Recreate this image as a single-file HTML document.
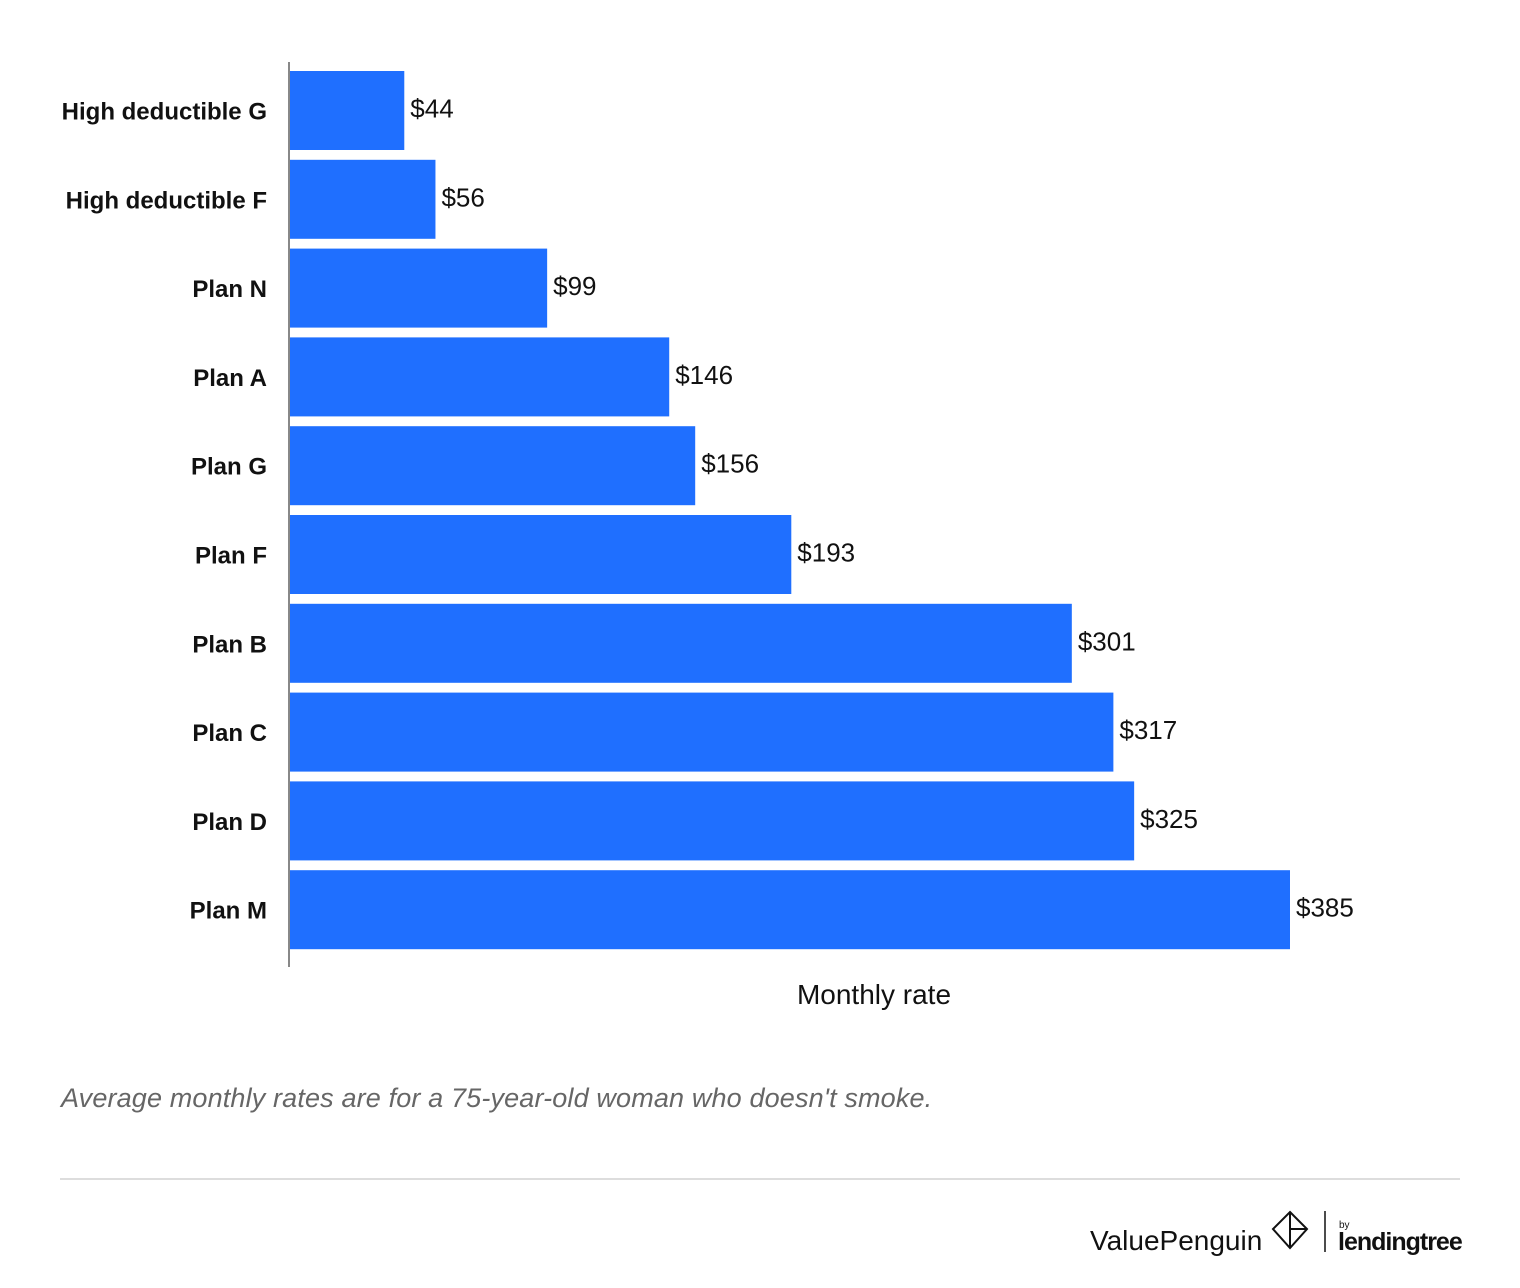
<!DOCTYPE html>
<html><head><meta charset="utf-8"><style>
body{margin:0;background:#fff;width:1520px;height:1288px;position:relative;font-family:"Liberation Sans",sans-serif;overflow:hidden}
svg{position:absolute;left:0;top:0}
</style></head><body>
<svg width="1520" height="1288">
<g id="bars"></g>
<line x1="289" y1="62" x2="289" y2="967" stroke="#888" stroke-width="2"/>
<text x="874" y="1004" font-size="28" text-anchor="middle" fill="#111">Monthly rate</text>
<text x="61" y="1107" font-size="27" font-style="italic" fill="#666" letter-spacing="0.15">Average monthly rates are for a 75-year-old woman who doesn't smoke.</text>
<line x1="60" y1="1179" x2="1460" y2="1179" stroke="#ddd" stroke-width="2"/>
<text x="1090" y="1250" font-size="28" fill="#111">ValuePenguin</text>
<g fill="none" stroke="#111" stroke-width="2"><polygon points="1290,1212 1307,1229 1290,1248 1273,1229"/><line x1="1290" y1="1212" x2="1290" y2="1248"/><line x1="1290" y1="1229" x2="1307" y2="1229"/></g>
<line x1="1325" y1="1211" x2="1325" y2="1252" stroke="#111" stroke-width="1.5"/>
<text x="1339" y="1228" font-size="10" fill="#111">by</text>
<text x="1338" y="1250" font-size="25" font-weight="bold" fill="#111" letter-spacing="-1">lendingtree</text>
</svg>
<script>
const categories=["High deductible G","High deductible F","Plan N","Plan A","Plan G","Plan F","Plan B","Plan C","Plan D","Plan M"];
const values=[44,56,99,146,156,193,301,317,325,385];
const valueLabels=["$44","$56","$99","$146","$156","$193","$301","$317","$325","$385"];
const x0=290,pxPer=1000/385,top0=71,step=88.8,bh=79;
const xs=v=>x0+v*pxPer, ys=i=>top0+i*step;
const g=document.getElementById('bars');
const NS="http://www.w3.org/2000/svg";
categories.forEach((c,i)=>{
 const r=document.createElementNS(NS,'rect');
 r.setAttribute('x',x0);r.setAttribute('y',ys(i));r.setAttribute('width',xs(values[i])-x0);r.setAttribute('height',bh);r.setAttribute('fill','#1f6fff');
 
 
 g.appendChild(r);
 const t=document.createElementNS(NS,'text');
 t.setAttribute('x',267);t.setAttribute('y',ys(i)+bh/2+9);t.setAttribute('text-anchor','end');t.setAttribute('font-size','24');t.setAttribute('font-weight','bold');t.setAttribute('fill','#111');
 t.textContent=c;
 
 
 g.appendChild(t);
 const v=document.createElementNS(NS,'text');
 v.setAttribute('x',xs(values[i])+6);v.setAttribute('y',ys(i)+bh/2+7);v.setAttribute('font-size','26');v.setAttribute('fill','#111');
 v.textContent=valueLabels[i];
 
 
 g.appendChild(v);
});
</script>
</body></html>
